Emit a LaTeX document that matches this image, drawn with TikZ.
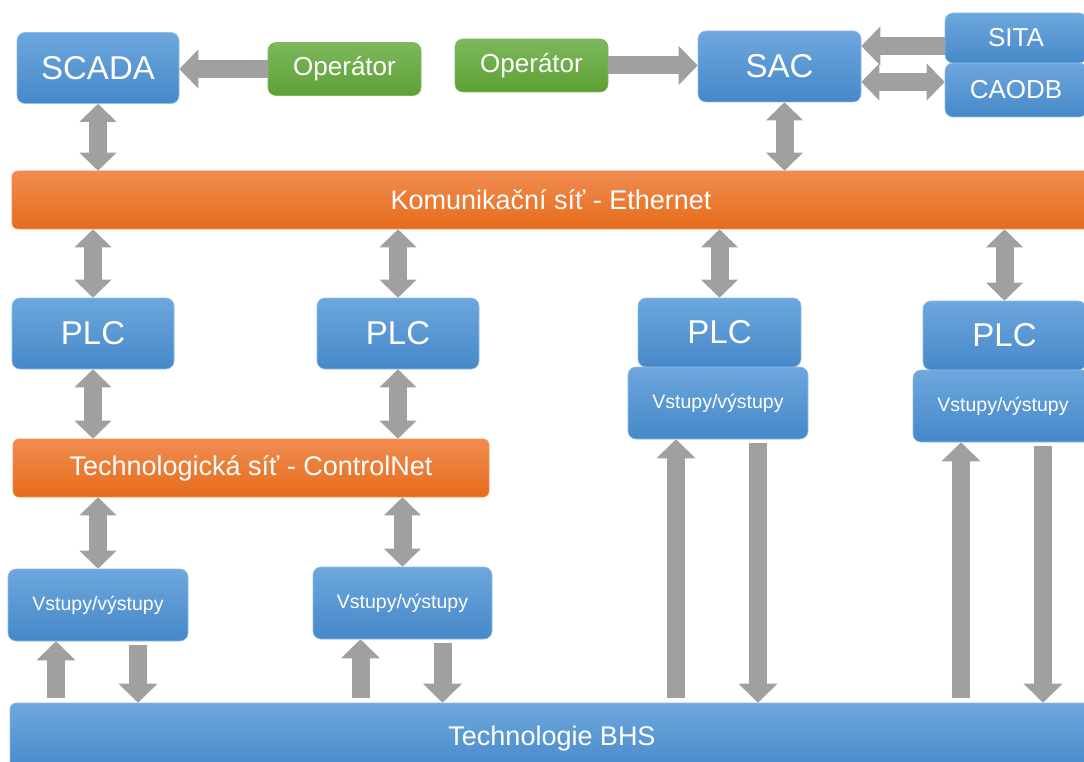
\documentclass[tikz,border=0pt]{standalone}
\usepackage{fontspec}
\setmainfont{Liberation Sans}
\usetikzlibrary{arrows.meta}

\definecolor{bluetop}{HTML}{6DA7DD}
\definecolor{bluebot}{HTML}{4688C9}
\definecolor{blueline}{HTML}{8DBDE8}
\definecolor{orangetop}{HTML}{F08C50}
\definecolor{orangebot}{HTML}{E66C1C}
\definecolor{greentop}{HTML}{7DB85C}
\definecolor{greenbot}{HTML}{5EA035}
\definecolor{arrowgray}{HTML}{A0A0A0}

\tikzset{
  blok/.style={rounded corners=8pt, top color=bluetop, bottom color=bluebot,
    draw=blueline, line width=0.6pt, text=white, inner sep=0pt},
  opbox/.style={blok, top color=greentop, bottom color=greenbot, draw=greentop},
  bar/.style={blok, rounded corners=6pt},
  netbar/.style={bar, top color=orangetop, bottom color=orangebot, draw=orangetop},
  hugefont/.style={font=\fontsize{33}{33}\selectfont},
  midfont/.style={font=\fontsize{26}{26}\selectfont},
  barfont/.style={font=\fontsize{27}{27}\selectfont},
  smallfont/.style={font=\fontsize{19.5}{20}\selectfont},
  fat/.style={arrowgray, line width=18pt,
    -{Triangle[width=39pt,length=19pt,line width=0pt]}},
  fatboth/.style={fat, {Triangle[width=37pt,length=18pt,line width=0pt]}-{Triangle[width=37pt,length=18pt,line width=0pt]}}
}

\begin{document}
\begin{tikzpicture}[x=1pt,y=-1pt]

  \useasboundingbox (0,0) rectangle (1084,762);
  \clip (0,0) rectangle (1084,762);

  % top row
  \node[blok, hugefont, minimum width=162, minimum height=71] (scada) at (98,68) {SCADA};
  \node[opbox, midfont, minimum width=153, minimum height=53] (op1) at (344.5,69) {Operátor};
  \node[opbox, midfont, minimum width=153, minimum height=53] (op2) at (531.5,65.5) {Operátor};
  \node[blok, hugefont, minimum width=163, minimum height=71] (sac) at (779.5,66.5) {SAC};
  \node[blok, midfont, minimum width=142, minimum height=54] (caodb) at (1016,90) {CAODB};
  \node[blok, midfont, minimum width=142, minimum height=50] (sita) at (1016,38) {SITA};

  % networks
  \node[netbar, barfont, minimum width=1078, minimum height=58] (eth) at (551,200) {Komunikační síť - Ethernet};
  \node[netbar, barfont, minimum width=476, minimum height=58] (ctrl) at (251,468) {Technologická síť - ControlNet};
  \node[bar, barfont, minimum width=1084, minimum height=72] (bhs) at (552,739) {Technologie BHS};

  % PLC
  \node[blok, hugefont, minimum width=162, minimum height=71] (plc1) at (93,333.5) {PLC};
  \node[blok, hugefont, minimum width=162, minimum height=71] (plc2) at (398,333.5) {PLC};
  \node[blok, smallfont, minimum width=180, minimum height=72] (io3) at (718,403) {Vstupy/výstupy};
  \node[blok, hugefont, minimum width=163, minimum height=69] (plc3) at (719.5,332.5) {PLC};
  \node[blok, smallfont, minimum width=180, minimum height=72] (io4) at (1003,406) {Vstupy/výstupy};
  \node[blok, hugefont, minimum width=163, minimum height=69] (plc4) at (1004.5,335.5) {PLC};

  % IO
  \node[blok, smallfont, minimum width=180, minimum height=72] (io1) at (98,605) {Vstupy/výstupy};
  \node[blok, smallfont, minimum width=179, minimum height=72] (io2) at (402.5,603) {Vstupy/výstupy};

  % arrows top
  \draw[fat] (op1.west) -- (op1.west -| scada.east);
  \draw[fat] (op2.east) -- (op2.east -| sac.west);
  \draw[fat] ([yshift=-8pt]sita.west) -- ([yshift=-8pt]sita.west -| sac.east);
  \draw[fatboth] ([yshift=8pt]caodb.west -| sac.east) -- ([yshift=8pt]caodb.west);
  \draw[fatboth] (scada.south) -- (scada.south |- eth.north);
  \draw[fatboth] ([xshift=5pt]sac.south) -- ([xshift=5pt]sac.south |- eth.north);

  % ethernet - PLC
  \foreach \p in {plc1,plc2,plc3,plc4}
    \draw[fatboth] (\p.north |- eth.south) -- (\p.north);
  \foreach \p in {plc1,plc2}
    \draw[fatboth] (\p.south) -- (\p.south |- ctrl.north);
  \foreach \p in {io1,io2}
    \draw[fatboth] (\p.north |- ctrl.south) -- (\p.north);

  % IO - BHS
  \foreach \p in {io1,io2,io3,io4}{
    \draw[fat, shorten <=5pt] ([xshift=-42pt]\p.south |- bhs.north) -- ([xshift=-42pt]\p.south);
    \draw[fat, shorten <=4pt] ([xshift=40pt]\p.south) -- ([xshift=40pt]\p.south |- bhs.north);
  }
\end{tikzpicture}
\end{document}
